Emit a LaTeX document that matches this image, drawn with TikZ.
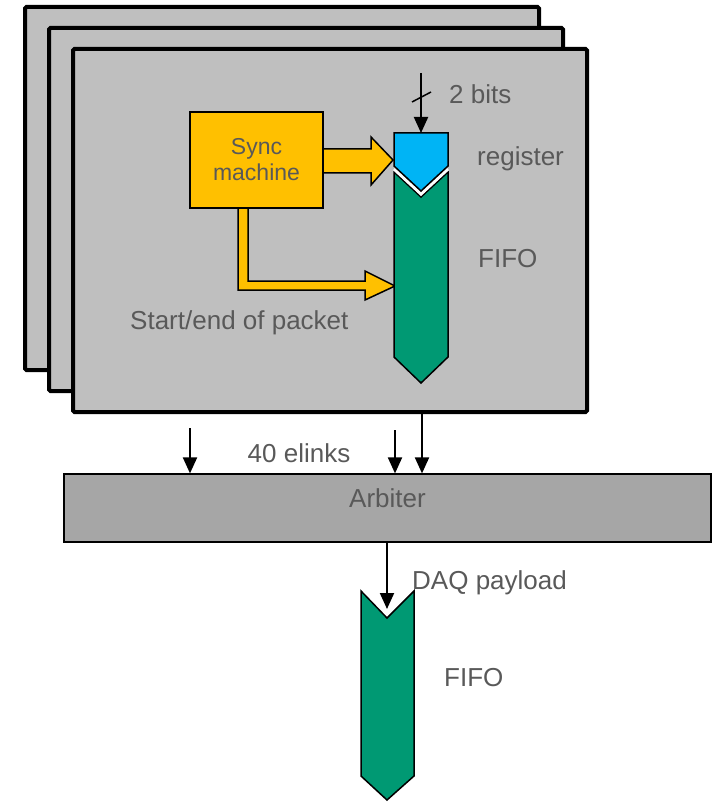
\documentclass[tikz,border=0pt]{standalone}
\usepackage{fontspec}
\setmainfont{Liberation Sans}
\usepackage{tikz}
\usetikzlibrary{arrows.meta}
\definecolor{boardgray}{HTML}{BFBFBF}
\definecolor{arbgray}{HTML}{A6A6A6}
\definecolor{syncyellow}{HTML}{FFC000}
\definecolor{regblue}{HTML}{00B4F5}
\definecolor{fifogreen}{HTML}{009973}
\definecolor{txtgray}{HTML}{595959}

\begin{document}
\begin{tikzpicture}[x=1pt,y=-1pt,
    board/.style={draw=black,line width=4pt,fill=boardgray,rounded corners=1.5pt},
    block/.style={draw=black,line width=1.5pt},
    sig/.style={draw=black,line width=2pt,-{Triangle[width=14pt,length=16pt]}},
    lbl/.style={text=txtgray,font=\fontsize{26}{30}\selectfont,inner sep=0pt}]
    \useasboundingbox (0,0) rectangle (713,802);
    \pgfmathsetmacro{\fl}{394}
    \pgfmathsetmacro{\fr}{448}
    \pgfmathsetmacro{\fm}{421}
    % Draw the boards
    \foreach \dx/\dy in {0/0,24/21,48/42}
        \draw [board] (25+\dx,7+\dy) rectangle (539+\dx,370+\dy);

    % Draw the sync machine and its outputs
    \draw [block,fill=syncyellow] (300,149) -- (371,149) -- (371,137) -- (393,160)
        -- (371,185) -- (371,173) -- (300,173) -- cycle;
    \draw [block,fill=syncyellow] (238,190) -- (248,190) -- (248,281) -- (365,281)
        -- (365,271) -- (395,286) -- (365,300) -- (365,290) -- (238,290) -- cycle;
    \node [block,fill=syncyellow,minimum width=133pt,minimum height=96pt,
        text=txtgray,align=center,font=\fontsize{23}{26}\selectfont] (sync)
        at (256.5,160) {Sync\\machine};

    % Draw the register and FIFO
    \draw [block,fill=fifogreen] (\fl,172) -- (\fm,197) -- (\fr,172) -- (\fr,357)
        -- (\fm,383) -- (\fl,357) -- cycle;
    \draw [white,line width=3pt] (\fl,169) -- (\fm,194) -- (\fr,169);
    \draw [block,fill=regblue] (\fl,133) -- (\fr,133) -- (\fr,166) -- (\fm,191)
        -- (\fl,166) -- cycle;
    \coordinate (regtop) at (\fm,133);
    \coordinate (bitsin) at (\fm,73);
    \draw [sig] (bitsin) -- (regtop);
    \draw [line width=1.5pt] (412,102) -- (431,92);

    \node [lbl,anchor=base west] (bits) at (449,104) {2 bits};
    \node [lbl,anchor=base west] (reglabel) at (477,166) {register};
    \node [lbl,anchor=base west] (fifolabel) at (478,267) {FIFO};
    \node [lbl,anchor=base west] (soplabel) at (130,329) {Start/end of packet};

    % Draw the arbiter
    \node [draw=black,line width=1.2pt,fill=arbgray,minimum width=647pt,
        minimum height=68pt,inner sep=0pt] (arbiter) at (387.5,508) {};
    \node [lbl,anchor=base] (arblabel) at (387.5,507) {Arbiter};
    \coordinate (elinka) at (190,428);
    \coordinate (elinkb) at (395,430);
    \coordinate (elinkc) at (422,413);
    \foreach \e in {elinka,elinkb,elinkc}
        \draw [sig] (\e) -- (\e |- arbiter.north);
    \node [lbl,anchor=base] (elinks) at (299,462) {40 elinks};

    % Draw the DAQ FIFO
    \draw [block,fill=fifogreen] (361,591) -- (387,618) -- (414,591) -- (414,776)
        -- (387,800) -- (361,776) -- cycle;
    \coordinate (daqin) at (387,609);
    \draw [sig] (arbiter.south -| daqin) -- (daqin);
    \node [lbl,anchor=base west] (daqlabel) at (412,589) {DAQ payload};
    \node [lbl,anchor=base west] (daqfifo) at (444,686) {FIFO};
\end{tikzpicture}
\end{document}
